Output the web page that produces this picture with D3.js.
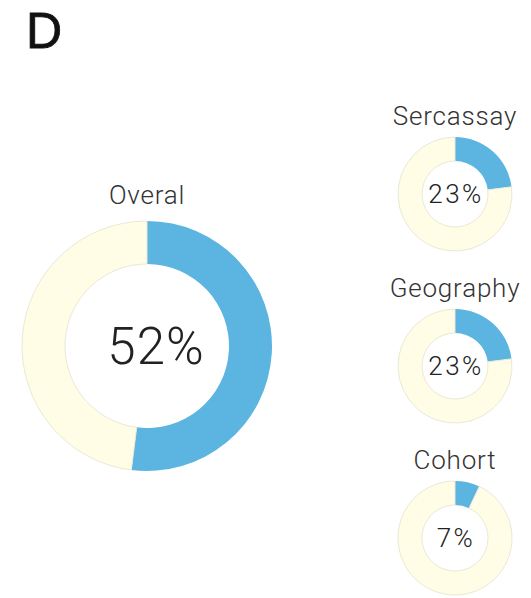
<!DOCTYPE html>
<html>
<head>
<meta charset="utf-8">
<script src="https://cdn.jsdelivr.net/npm/d3@7"></script>
<style>
  html, body { margin: 0; padding: 0; background: #fff; }
  svg { display: block; }
  text { font-family: Roboto, "Liberation Sans", Arial, sans-serif; font-weight: 300; }
  text.panel { font-family: "Liberation Sans", Arial, sans-serif; font-weight: 400; }
</style>
</head>
<body>
<svg id="chart" width="531" height="598"></svg>
<script>
// Share of matches per comparison
const panelLetter = "D";
const mainLabel = "Overal";
const mainValue = 52;
const subLabels = ["Sercassay", "Geography", "Cohort"];
const subValues = [23, 23, 7];

const blue = "#5bb5e0";
const cream = "#fffde6";
const rim = "#ebe8d8";

const svg = d3.select("#chart");

svg.append("text")
  .attr("class", "panel")
  .attr("x", 26).attr("y", 48)
  .attr("font-size", 50)
  .attr("fill", "#111")
  .attr("stroke", "#111")
  .attr("stroke-width", 0.8)
  .text(panelLetter);

const pie = d3.pie().sort(null).value(d => d);
const angle = d3.scaleLinear().domain([0, 100]).range([0, 2 * Math.PI]);

function donut(cx, cy, rOuter, rInner, value, label, opts) {
  const g = svg.append("g").attr("transform", `translate(${cx},${cy})`);
  const arc = d3.arc().innerRadius(rInner).outerRadius(rOuter);
  const slices = pie([value, 100 - value]);
  g.selectAll("path")
    .data(slices)
    .join("path")
    .attr("d", d => arc({ startAngle: angle(d.index === 0 ? 0 : value), endAngle: angle(d.index === 0 ? value : 100) }))
    .attr("fill", (d, i) => i === 0 ? blue : cream)
    .attr("stroke", (d, i) => i === 0 ? "none" : rim)
    .attr("stroke-width", 1);
  g.append("text")
    .attr("x", opts.valueDx).attr("y", 0)
    .attr("text-anchor", "middle")
    .attr("dominant-baseline", "central")
    .attr("font-size", opts.valueSize)
    .attr("letter-spacing", opts.valueSpacing)
    .attr("fill", "#222")
    .text(value + "%");
  g.append("text")
    .attr("x", 0).attr("y", opts.labelDy)
    .attr("text-anchor", "middle")
    .attr("dominant-baseline", "central")
    .attr("font-size", opts.labelSize)
    .attr("letter-spacing", 0.8)
    .attr("fill", "#333")
    .text(label);
}

// Large overall ring
donut(147, 346, 125, 82, mainValue, mainLabel,
  { labelDy: -151, valueSize: 51, labelSize: 26, valueDx: 9, valueSpacing: 1 });

// Smaller rings stacked on the right
const subY = d3.scalePoint().domain(subLabels).range([194, 538]);
subLabels.forEach((lab, i) => {
  donut(455, subY(lab), 57, 33, subValues[i], lab,
    { labelDy: -78, valueSize: 26, labelSize: 26, valueDx: 1, valueSpacing: 2.5 });
});
</script>
</body>
</html>
